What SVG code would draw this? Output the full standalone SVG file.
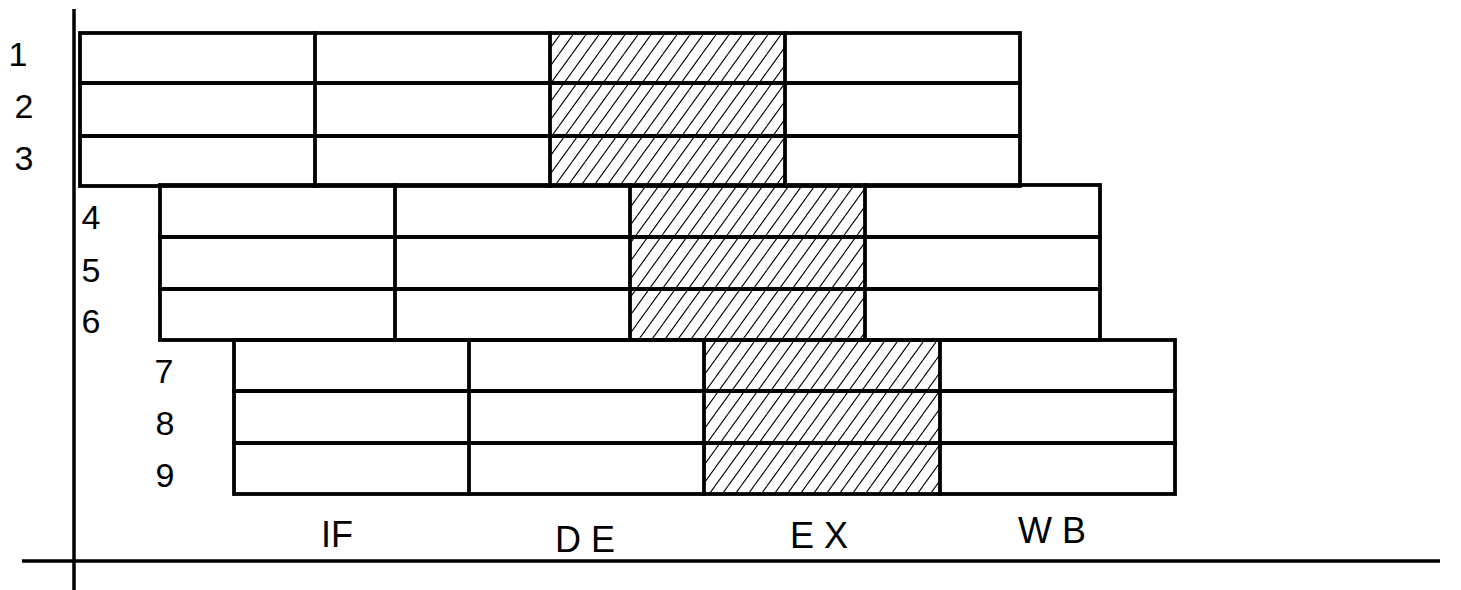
<svg xmlns="http://www.w3.org/2000/svg" width="1461" height="590" viewBox="0 0 1461 590">
<defs>
<pattern id="hatch" patternUnits="userSpaceOnUse" width="13" height="18">
<path d="M-13,18 L0,0 M0,18 L13,0 M13,18 L26,0" stroke="#000" stroke-width="1.1" fill="none"/>
</pattern>
<style>
.box{fill:none;stroke:#000;stroke-width:3.8;stroke-linecap:square}
.hat{fill:url(#hatch);stroke:none}
.lbl{font-family:"Liberation Sans",Arial,sans-serif;font-size:34px;fill:#000;text-anchor:middle}
.stg{font-family:"Liberation Sans",Arial,sans-serif;font-size:36px;fill:#000;text-anchor:middle}
.ax{stroke:#000;stroke-width:3.5;fill:none}
</style>
</defs>
<rect width="1461" height="590" fill="#fff"/>
<g id="axes">
<line class="ax" x1="74" y1="9" x2="74" y2="590"/>
<line class="ax" x1="22" y1="561" x2="1440" y2="561"/>
</g>
<g id="group1">
<rect class="hat" x="550" y="33" width="235" height="153"/>
<rect class="box" x="80" y="33" width="940" height="153"/>
<path class="box" d="M80,83H1020M80,136H1020M315,33V186M550,33V186M785,33V186"/>
<text class="lbl" x="18" y="66">1</text>
<text class="lbl" x="24" y="118">2</text>
<text class="lbl" x="24" y="170">3</text>
</g>
<g id="group2">
<rect class="hat" x="630" y="185" width="235" height="155"/>
<rect class="box" x="160" y="185" width="940" height="155"/>
<path class="box" d="M160,237H1100M160,289H1100M395,185V340M630,185V340M865,185V340"/>
<text class="lbl" x="91" y="229">4</text>
<text class="lbl" x="91" y="282">5</text>
<text class="lbl" x="91" y="333">6</text>
</g>
<g id="group3">
<rect class="hat" x="704" y="340" width="236" height="154"/>
<rect class="box" x="234" y="340" width="941" height="154"/>
<path class="box" d="M234,391H1175M234,443H1175M469,340V494M704,340V494M940,340V494"/>
<text class="lbl" x="164" y="383">7</text>
<text class="lbl" x="165" y="435">8</text>
<text class="lbl" x="165" y="487">9</text>
</g>
<g id="stages">
<text class="stg" x="337" y="547">IF</text>
<text class="stg" x="585" y="552">D E</text>
<text class="stg" x="819" y="548">E X</text>
<text class="stg" x="1052" y="543">W B</text>
</g>
</svg>
